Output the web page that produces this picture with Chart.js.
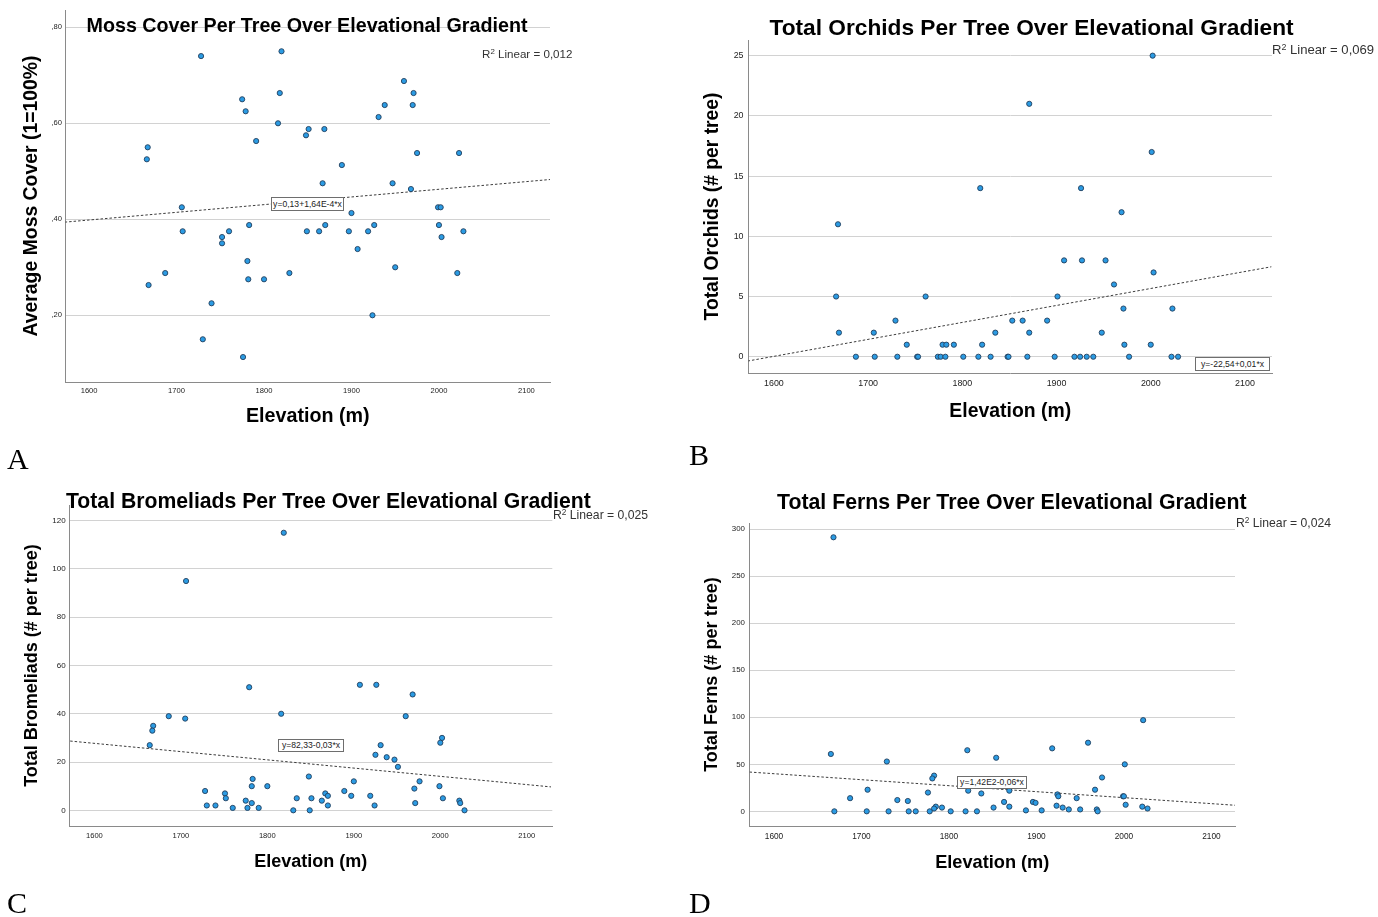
<!DOCTYPE html>
<html>
<head>
<meta charset="utf-8">
<script src="https://cdn.jsdelivr.net/npm/chart.js@4.4.1/dist/chart.umd.min.js"></script>
<style>
  html, body { margin:0; padding:0; background:#fff; }
  body { width:1378px; height:917px; position:relative; overflow:hidden; }
  canvas { position:absolute; }
  .t { position:absolute; white-space:nowrap; line-height:1; font-family:"Liberation Sans", Arial, sans-serif; color:#000; }
  .title { font-weight:bold; }
  .r2 { color:#333; }
  .r2 sup { font-size:0.68em; vertical-align:0.5em; line-height:0; }
  .eq { position:absolute; box-sizing:border-box; border:1px solid #6e6e6e; background:#fff; color:#222;
        font-family:"Liberation Sans", Arial, sans-serif; font-size:8.6px; text-align:center; white-space:nowrap; }
  .letter { position:absolute; line-height:1; font-family:"Liberation Serif", "Times New Roman", serif; font-size:30px; color:#000; }
</style>
</head>
<body>
<canvas id="cA" width="689" height="445" style="left:0;top:0"></canvas>
<canvas id="cB" width="689" height="445" style="left:689px;top:0"></canvas>
<canvas id="cC" width="689" height="457" style="left:0;top:460px"></canvas>
<canvas id="cD" width="689" height="457" style="left:689px;top:460px"></canvas>

<div class="t title" style="left:86.5px;top:15.9px;font-size:19.7px">Moss Cover Per Tree Over Elevational Gradient</div>
<div class="t title" style="left:769.5px;top:15.9px;font-size:22.7px">Total Orchids Per Tree Over Elevational Gradient</div>
<div class="t title" style="left:66px;top:489.6px;font-size:21.2px">Total Bromeliads Per Tree Over Elevational Gradient</div>
<div class="t title" style="left:777px;top:491.6px;font-size:21.3px">Total Ferns Per Tree Over Elevational Gradient</div>

<div class="t r2" style="left:482px;top:48.3px;font-size:11.6px">R<sup>2</sup> Linear = 0,012</div>
<div class="t r2" style="left:1272px;top:42.6px;font-size:13.1px">R<sup>2</sup> Linear = 0,069</div>
<div class="t r2" style="left:553px;top:509px;font-size:12.2px">R<sup>2</sup> Linear = 0,025</div>
<div class="t r2" style="left:1236px;top:517px;font-size:12.2px">R<sup>2</sup> Linear = 0,024</div>

<div class="eq" style="left:271px;top:197px;width:73px;height:14px;line-height:12px">y=0,13+1,64E-4*x</div>
<div class="eq" style="left:1195px;top:357px;width:75px;height:14px;line-height:12px">y=-22,54+0,01*x</div>
<div class="eq" style="left:278px;top:739px;width:66px;height:13px;line-height:11px">y=82,33-0,03*x</div>
<div class="eq" style="left:957px;top:776px;width:70px;height:13px;line-height:11px">y=1,42E2-0,06*x</div>

<div class="letter" style="left:7px;top:444px">A</div>
<div class="letter" style="left:689px;top:440px">B</div>
<div class="letter" style="left:7px;top:888px">C</div>
<div class="letter" style="left:689px;top:888px">D</div>

<script>
// ---------- DATA ----------
const xTicks = [1600, 1700, 1800, 1900, 2000, 2100];
const trendX = [1572, 2128];

// A: moss cover
const mossElev = [1728,1820,1818,1775,1779,1816,1848,1851,1791,1667,1666,1706,1707,1760,1783,1752,1752,1849,1781,1687,1668,1782,1800,1829,1740,1730,1776,
                  1960,1971,1938,1970,1931,1869,1975,2023,1889,1867,1947,1968,1999,2002,1900,1863,1870,1897,1919,1926,2000,2028,2003,1907,1950,2021,1924];
const mossVals = [0.74,0.75,0.663,0.65,0.625,0.60,0.575,0.588,0.563,0.55,0.525,0.425,0.375,0.375,0.388,0.363,0.35,0.375,0.313,0.288,0.263,0.275,0.275,0.288,0.225,0.15,0.113,
                  0.688,0.663,0.638,0.638,0.613,0.588,0.538,0.538,0.513,0.475,0.475,0.463,0.425,0.425,0.413,0.375,0.388,0.375,0.375,0.388,0.388,0.375,0.363,0.338,0.30,0.288,0.20];
const mossTrend = [0.394, 0.483];
const mossTicks = [0.2, 0.4, 0.6, 0.8];
const mossTickLabels = [',20', ',40', ',60', ',80'];

// B: orchids
const orchidElev = [1668,1666,1669,1687,1706,1707,1729,1731,1741,1752,1753,1761,1774,1777,1782,1779,1783,1791,1801,1817,1819,1821,1830,1835,1848,1849,1853,
                    2002,1871,2001,1926,1969,1908,1927,1952,2003,1961,1901,1971,2023,1864,1890,1871,1948,1972,2000,1869,1898,1919,1925,1932,1939,1977,2022,2029];
const orchidVals = [11,5,2,0,2,0,3,0,1,0,0,5,0,0,0,1,1,1,0,0,14,1,0,2,0,0,3,
                    25,21,17,14,12,8,8,8,7,6,5,4,4,3,3,2,2,1,1,0,0,0,0,0,0,0,0,0];
const orchidTrend = [-0.36, 7.47];
const orchidTicks = [0, 5, 10, 15, 20, 25];

// C: bromeliads
const bromElev = [1819,1706,1779,1816,1686,1705,1668,1667,1664,1783,1782,1800,1728,1751,1752,1775,1782,1730,1740,1760,1777,1790,1834,1830,
                  1907,1926,1968,1960,2002,2000,1931,1925,1938,1947,1951,1848,1900,1976,1970,1999,1889,1867,1870,1851,1897,1919,2003,1863,2022,2023,1870,1924,1971,1849,2028];
const bromVals = [115,95,51,40,39,38,35,33,27,13,10,10,8,7,5,4,3,2,2,1,1,1,5,0,
                  52,52,48,39,30,28,27,23,22,21,18,14,12,12,9,10,8,7,6,5,6,6,5,4,4,3,2,2,3,0,0];
const bromTrend = [28.7, 9.7];
const bromTicks = [0, 20, 40, 60, 80, 100, 120];

// D: ferns
const fernElev = [1668,1665,1669,1729,1821,1854,1783,1781,1776,1707,1687,1741,1753,1785,1783,1792,1822,1837,1851,1706,1731,1754,1762,1778,1802,1819,1832,
                  2022,1959,1918,2001,1975,1967,1869,1924,1925,1999,2000,1946,1863,1869,1896,1899,1923,1930,1937,1950,1888,1906,1969,1970,2002,2021,2027];
const fernVals = [291.5,61,0,53,65,57,38,35,20,23,14,12,11,5,3,4,22,19,4,0,0,0,0,0,0,0,0,
                  97,73,67,50,36,23,22,18,16,16,16,14,10,5,10,9,6,4,2,2,1,1,2,0,7,5,3];
const fernTrend = [41.8, 6.4];
const fernTicks = [0, 50, 100, 150, 200, 250, 300];

// ---------- CHARTS ----------
const FAMILY = '"Liberation Sans", Arial, sans-serif';

function buildChart(id, s) {
  const pts = s.elev.map((x, i) => ({ x: x, y: s.vals[i] }));
  const trend = trendX.map((x, i) => ({ x: x, y: s.trend[i] }));
  return new Chart(document.getElementById(id), {
    type: 'scatter',
    data: {
      datasets: [
        { data: pts, backgroundColor: '#2b9be3', borderColor: '#23405e', borderWidth: 0.9,
          pointRadius: 2.6, pointHoverRadius: 2.6 },
        { data: trend, showLine: true, pointRadius: 0, borderColor: '#3c3c3c', borderWidth: 1,
          borderDash: [2.5, 2], fill: false }
      ]
    },
    options: {
      responsive: false, animation: false, devicePixelRatio: 1,
      events: [],
      layout: { padding: s.pad },
      plugins: { legend: { display: false }, tooltip: { enabled: false }, title: { display: false } },
      scales: {
        x: {
          type: 'linear', min: s.xMin, max: s.xMax,
          afterBuildTicks: sc => { sc.ticks = xTicks.map(v => ({ value: v })); },
          afterFit: sc => { sc.height = s.xH; },
          grid: { display: false, drawTicks: false },
          border: { display: true, color: '#8a8a8a', width: 1 },
          ticks: { autoSkip: false, maxRotation: 0, padding: s.xTickPad, color: '#222',
                   font: { family: FAMILY, size: s.xTickSize }, callback: v => String(v) },
          title: { display: true, text: 'Elevation (m)', color: '#000',
                   font: { family: FAMILY, size: s.xTitleSize, weight: 'bold' },
                   padding: { top: 0, bottom: s.xTitlePad } }
        },
        y: {
          type: 'linear', min: s.yMin, max: s.yMax,
          afterBuildTicks: sc => { sc.ticks = s.yTicks.map(v => ({ value: v })); },
          afterFit: sc => { sc.width = s.yW; },
          grid: { display: true, drawTicks: false, color: '#d2d2d2', lineWidth: 1 },
          border: { display: true, color: '#8a8a8a', width: 1 },
          ticks: { autoSkip: false, padding: s.yTickPad, color: '#222',
                   font: { family: FAMILY, size: s.yTickSize },
                   callback: (v, i) => s.yLabels ? s.yLabels[i] : String(v) },
          title: { display: true, text: s.yTitle, color: '#000',
                   font: { family: FAMILY, size: s.yTitleSize, weight: 'bold' },
                   padding: { top: s.yTitlePad, bottom: 0 } }
        }
      }
    }
  });
}

buildChart('cA', {
  elev: mossElev, vals: mossVals, trend: mossTrend,
  xMin: 1573, xMax: 2127, yMin: 0.061, yMax: 0.836,
  yTicks: mossTicks, yLabels: mossTickLabels,
  pad: { left: 0, top: 10, right: 139, bottom: 0 }, yW: 65.5, xH: 63,
  xTickPad: 4, xTickSize: 7.6, yTickPad: 3.5, yTickSize: 7.6,
  xTitleSize: 19.7, xTitlePad: 16.2,
  yTitle: 'Average Moss Cover (1=100%)', yTitleSize: 19.4, yTitlePad: 20.4
});

buildChart('cB', {
  elev: orchidElev, vals: orchidVals, trend: orchidTrend,
  xMin: 1573, xMax: 2128.7, yMin: -1.35, yMax: 26.3,
  yTicks: orchidTicks,
  pad: { left: 0, top: 40, right: 106, bottom: 0 }, yW: 59.5, xH: 72,
  xTickPad: 5, xTickSize: 8.9, yTickPad: 5, yTickSize: 8.9,
  xTitleSize: 19.4, xTitlePad: 21.4,
  yTitle: 'Total Orchids (# per tree)', yTitleSize: 19.3, yTitlePad: 12.4
});

buildChart('cC', {
  elev: bromElev, vals: bromVals, trend: bromTrend,
  xMin: 1571, xMax: 2129.5, yMin: -6.5, yMax: 126.5,
  yTicks: bromTicks,
  pad: { left: 0, top: 45, right: 136.7, bottom: 0 }, yW: 69.3, xH: 91,
  xTickPad: 5.7, xTickSize: 7.6, yTickPad: 3.6, yTickSize: 8,
  xTitleSize: 18, xTitlePad: 44.2,
  yTitle: 'Total Bromeliads (# per tree)', yTitleSize: 18, yTitlePad: 21.2
});

buildChart('cD', {
  elev: fernElev, vals: fernVals, trend: fernTrend,
  xMin: 1572, xMax: 2127, yMin: -15.6, yMax: 306.7,
  yTicks: fernTicks,
  pad: { left: 0, top: 63, right: 143, bottom: 0 }, yW: 60.5, xH: 91,
  xTickPad: 5.7, xTickSize: 8.3, yTickPad: 4.5, yTickSize: 7.9,
  xTitleSize: 18.2, xTitlePad: 43.1,
  yTitle: 'Total Ferns (# per tree)', yTitleSize: 18.1, yTitlePad: 12.1
});
</script>
</body>
</html>
